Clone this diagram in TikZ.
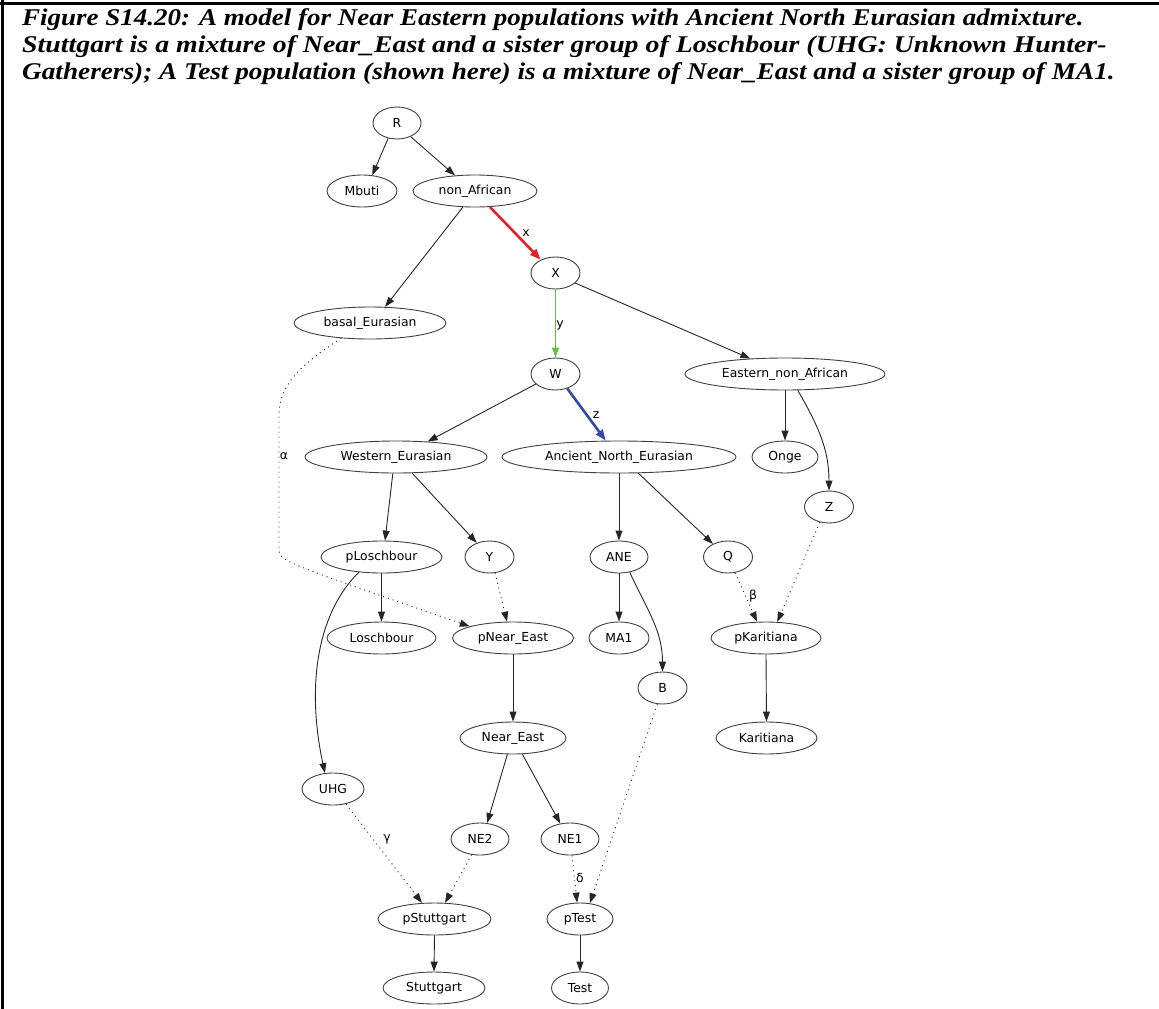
\documentclass[tikz,border=0pt]{standalone}
\usepackage{fontspec}
\setmainfont{DejaVu Sans}
\newfontfamily\titlefont{Liberation Serif}
\usetikzlibrary{arrows.meta,shapes.geometric}
\definecolor{ered}{RGB}{228,32,36}
\definecolor{egreen}{RGB}{104,186,72}
\definecolor{eblue}{RGB}{52,74,160}
\begin{document}
\begin{tikzpicture}[x=1pt,y=-1pt,
  nd/.style={ellipse,draw=black!75,line width=0.9pt,inner sep=0pt,minimum height=32pt,minimum width=#1,font=\fontsize{12.4}{14}\selectfont},
  ar/.style={draw=black!85,line width=0.9pt,-{Triangle[length=10pt,width=7pt]}},
  dt/.style={ar,dash pattern=on 1pt off 4pt},
  lb/.style={font=\fontsize{12.4}{14}\selectfont,inner sep=0pt},
  ttl/.style={anchor=base west,inner sep=0pt,font=\titlefont\bfseries\itshape\fontsize{24}{27}\selectfont}
]
\useasboundingbox (0,0) rectangle (1159,1009);
\draw[line width=3pt] (0,3.2) -- (1159,3.2);
\draw[line width=2.7pt] (2.7,0) -- (2.7,1009);

\node[ttl] (t1) at (22,25.5) {\scalebox{1.125}[1]{Figure S14.20: A model for Near Eastern populations with Ancient North Eurasian admixture.}};
\node[ttl] (t2) at (22,52.5) {\scalebox{1.16}[1]{Stuttgart is a mixture of Near\_East and a sister group of Loschbour (UHG: Unknown Hunter-}};
\node[ttl] (t3) at (22,79.5) {\scalebox{1.135}[1]{Gatherers); A Test population (shown here) is a mixture of Near\_East and a sister group of MA1.}};

\node[nd=48] (R) at (397,123) {R};
\node[nd=70] (Mbuti) at (362,191) {Mbuti};
\node[nd=124] (nonAf) at (475,191) {non\_African};
\node[nd=49] (X) at (555.5,273) {X};
\node[nd=152] (basal) at (370,323) {basal\_Eurasian};
\node[nd=49] (W) at (555.5,374) {W};
\node[nd=200] (ENA) at (785,374) {Eastern\_non\_African};
\node[nd=182] (WE) at (396,457) {Western\_Eurasian};
\node[nd=234] (ANEur) at (619,457) {Ancient\_North\_Eurasian};
\node[nd=66] (Onge) at (785,457) {Onge};
\node[nd=121] (pLosch) at (381.5,557) {pLoschbour};
\node[nd=49] (Y) at (489.5,557) {Y};
\node[nd=58] (ANE) at (619,557) {ANE};
\node[nd=49] (Q) at (728,557) {Q};
\node[nd=49] (Z) at (829,507) {Z};
\node[nd=109] (Losch) at (381.5,638) {Loschbour};
\node[nd=121] (pNE) at (513,638) {pNear\_East};
\node[nd=60] (MA1) at (619,638) {MA1};
\node[nd=110] (pK) at (766,638) {pKaritiana};
\node[nd=49] (B) at (662.5,688) {B};
\node[nd=106] (NearE) at (513,738) {Near\_East};
\node[nd=101] (Karit) at (766.5,738) {Karitiana};
\node[nd=62] (UHG) at (333,789) {UHG};
\node[nd=58] (NE2) at (480,839) {NE2};
\node[nd=58] (NE1) at (570,839) {NE1};
\node[nd=113] (pStutt) at (434.5,919) {pStuttgart};
\node[nd=66] (pTest) at (580,919) {pTest};
\node[nd=102] (Stutt) at (434,988) {Stuttgart};
\node[nd=57] (Test) at (580,988) {Test};

% solid edges
\draw[ar] (R.-120) -- (Mbuti.57);
\draw[ar] (R.-45) -- (nonAf.142);
\draw[ar] (nonAf.-127) -- (basal.47);
\draw[ar,draw=ered,line width=2.6pt,-{Triangle[length=11pt,width=8pt]}] (nonAf.-47) -- (X.138);
\draw[ar,draw=egreen] (X.south) -- (W.north);
\draw[ar] (X.-27) -- (ENA.156);
\draw[ar] (W.-153) -- (WE.26);
\draw[ar,draw=eblue,line width=2.6pt,-{Triangle[length=11pt,width=8pt]}] (W.-51) -- (ANEur.129);
\draw[ar] (ENA.south) -- (Onge.north);
\draw[ar] (ENA.-52) to[out=-60,in=90] (Z.north);
\draw[ar] (WE.-101) -- (pLosch.78);
\draw[ar] (WE.-45) -- (Y.132);
\draw[ar] (ANEur.south) -- (ANE.north);
\draw[ar] (ANEur.-40) -- (Q.139);
\draw[ar] (pLosch.south) -- (Losch.north);
\draw[ar] (pLosch.-146) .. controls (320,610) and (305,680) .. (UHG.117);
\draw[ar] (ANE.south) -- (MA1.north);
\draw[ar] (ANE.-55) to[out=-65,in=90] (B.north);
\draw[ar] (pK.south) -- (Karit.north);
\draw[ar] (pNE.south) -- (NearE.north);
\draw[ar] (NearE.-109) -- (NE2.66);
\draw[ar] (NearE.-60) -- (NE1.122);
\draw[ar] (pStutt.south) -- (Stutt.north);
\draw[ar] (pTest.south) -- (Test.north);

% dotted edges
\draw[dt] (basal.-152) .. controls (300,365) and (279,385) .. (279,415) -- (279,550) .. controls (279,561) and (286,563) .. (pNE.165);
\draw[dt] (Y.-71) -- (pNE.110);
\draw[dt] (Q.-66) -- (pK.119);
\draw[dt] (Z.-121) -- (pK.55);
\draw[dt] (UHG.-49) -- (pStutt.128);
\draw[dt] (NE2.-118) -- (pStutt.57);
\draw[dt] (NE1.-83) -- (pTest.100);
\draw[dt] (B.-108) -- (pTest.58);

% edge labels
\node[lb] (lx) at (526,233) {x};
\node[lb] (ly) at (560,325) {y};
\node[lb] (lz) at (596,415) {z};
\node[lb] (la) at (284,456) {α};
\node[lb] (lbeta) at (753,596) {β};
\node[lb] (lg) at (387,839) {γ};
\node[lb] (ld) at (580,878) {δ};
\end{tikzpicture}
\end{document}
